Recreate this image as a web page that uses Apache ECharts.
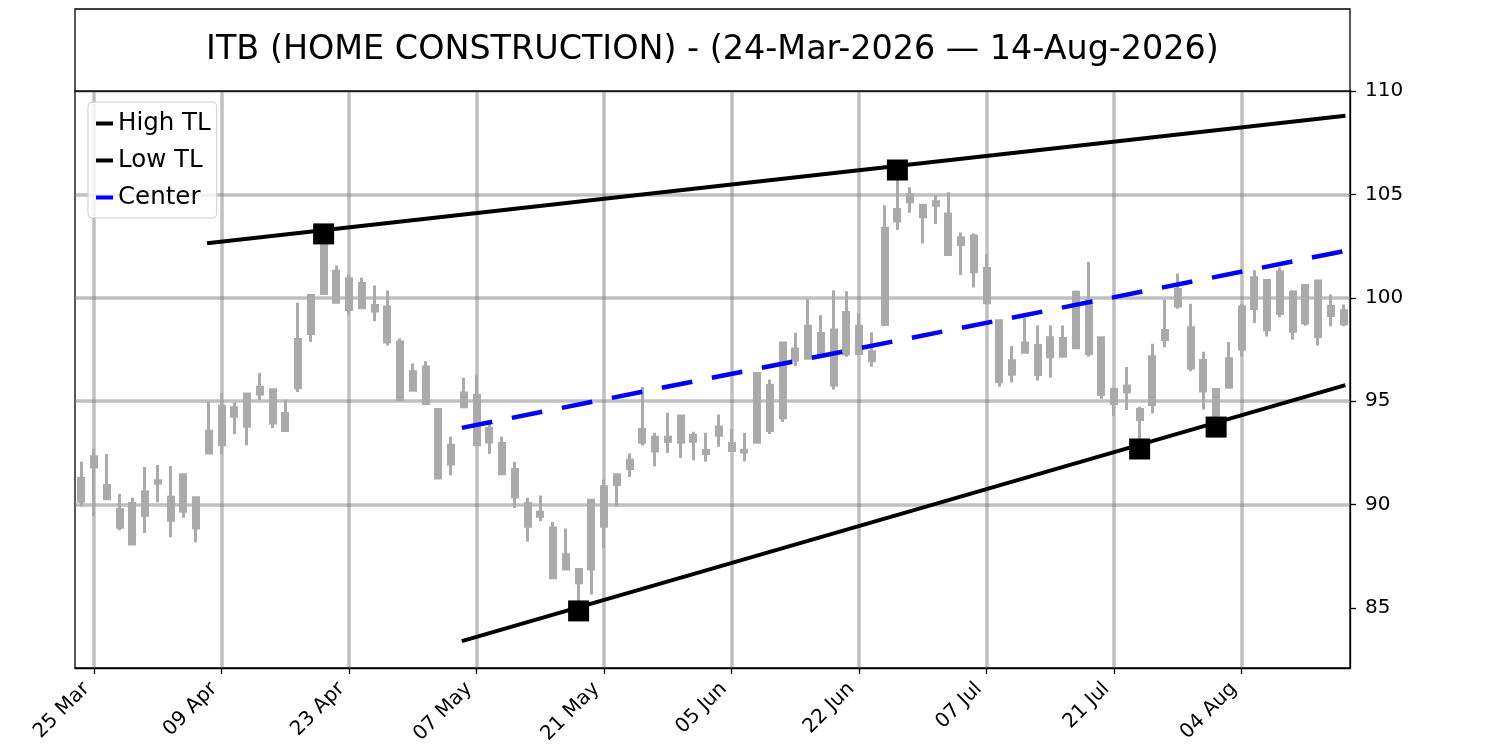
<!DOCTYPE html>
<html>
<head>
<meta charset="utf-8">
<script src="https://cdn.jsdelivr.net/npm/echarts@6/dist/echarts.min.js"></script>
<style>
html, body { margin: 0; padding: 0; background: #fff; }
#main { width: 1500px; height: 750px; }
</style>
</head>
<body>
<div id="main"></div>
<script>
// trading days, 24-Mar-2026 .. 14-Aug-2026
var dates = [
  '24 Mar','25 Mar','26 Mar','27 Mar','30 Mar','31 Mar','01 Apr','02 Apr','06 Apr','07 Apr',
  '08 Apr','09 Apr','10 Apr','13 Apr','14 Apr','15 Apr','16 Apr','17 Apr','20 Apr','21 Apr',
  '22 Apr','23 Apr','24 Apr','27 Apr','28 Apr','29 Apr','30 Apr','01 May','04 May','05 May',
  '06 May','07 May','08 May','11 May','12 May','13 May','14 May','15 May','18 May','19 May',
  '20 May','21 May','22 May','26 May','27 May','28 May','29 May','01 Jun','02 Jun','03 Jun',
  '04 Jun','05 Jun','08 Jun','09 Jun','10 Jun','11 Jun','12 Jun','15 Jun','16 Jun','17 Jun',
  '18 Jun','22 Jun','23 Jun','24 Jun','25 Jun','26 Jun','29 Jun','30 Jun','01 Jul','02 Jul',
  '06 Jul','07 Jul','08 Jul','09 Jul','10 Jul','13 Jul','14 Jul','15 Jul','16 Jul','17 Jul',
  '20 Jul','21 Jul','22 Jul','23 Jul','24 Jul','27 Jul','28 Jul','29 Jul','30 Jul','31 Jul',
  '03 Aug','04 Aug','05 Aug','06 Aug','07 Aug','10 Aug','11 Aug','12 Aug','13 Aug','14 Aug'
];
var tickDates = ['25 Mar','09 Apr','23 Apr','07 May','21 May','05 Jun','22 Jun','07 Jul','21 Jul','04 Aug'];

var opens = [
  90.16, 92.31, 90.92, 89.76, 88.10, 89.49, 91.16, 89.25, 91.45, 88.87,
  92.50, 92.90, 94.27, 93.79, 95.68, 95.56, 93.58, 95.65, 98.28, 100.21,
  101.29, 100.92, 99.52, 99.63, 99.56, 97.86, 95.53, 96.66, 94.60, 91.97,
  95.40, 95.29, 93.03, 92.95, 91.70, 90.05, 89.44, 88.87, 86.89, 86.86,
  86.89, 88.96, 90.97, 91.75, 93.02, 93.26, 93.07, 94.28, 93.07, 92.62,
  93.36, 92.95, 92.54, 93.02, 95.76, 94.20, 96.99, 97.08, 98.28, 95.78,
  97.28, 98.63, 97.39, 98.71, 103.71, 104.65, 104.48, 104.48, 104.05, 102.58,
  102.99, 101.42, 98.89, 96.30, 97.37, 97.69, 97.15, 97.18, 97.58, 99.87,
  98.07, 95.57, 95.44, 94.60, 94.84, 97.99, 99.60, 98.55, 96.97, 95.57,
  95.67, 97.53, 99.48, 100.84, 99.24, 100.28, 98.78, 100.81, 99.14, 99.38
];
var closes = [
  91.26, 91.82, 90.28, 88.91, 90.05, 90.62, 91.03, 90.36, 89.68, 90.33,
  93.55, 94.76, 94.68, 95.35, 95.35, 93.95, 94.40, 97.98, 100.11, 102.58,
  99.79, 99.44, 100.69, 99.36, 97.86, 95.08, 96.42, 94.89, 91.29, 92.87,
  94.73, 92.90, 93.68, 91.49, 90.37, 88.96, 89.63, 86.46, 87.58, 86.22,
  90.21, 90.86, 91.45, 92.15, 93.63, 92.59, 93.26, 93.02, 93.36, 92.47,
  93.75, 92.62, 92.63, 96.34, 93.58, 97.82, 97.53, 98.63, 97.31, 98.44,
  99.29, 97.31, 96.96, 103.36, 104.27, 104.97, 103.92, 104.65, 102.10, 102.90,
  101.26, 99.76, 95.94, 96.96, 97.82, 96.29, 98.07, 98.03, 100.27, 97.31,
  95.33, 94.89, 95.73, 94.12, 97.15, 98.42, 100.40, 96.61, 95.49, 94.32,
  97.05, 99.56, 100.97, 98.46, 101.25, 98.38, 100.60, 98.13, 99.59, 98.75
];
var lows = [
  89.92, 89.44, 90.25, 88.76, 88.02, 88.63, 90.12, 88.42, 89.36, 88.18,
  92.50, 92.42, 93.40, 92.87, 95.05, 93.71, 93.55, 95.44, 97.86, 100.21,
  99.71, 99.19, 99.47, 98.87, 97.69, 95.08, 95.53, 94.89, 91.29, 91.42,
  94.73, 92.90, 92.45, 91.49, 89.84, 88.20, 89.20, 86.46, 86.89, 84.86,
  85.65, 87.91, 89.90, 91.34, 92.86, 91.86, 92.50, 92.26, 92.15, 92.07,
  92.80, 92.54, 92.10, 93.02, 93.42, 93.99, 96.69, 97.06, 97.31, 95.57,
  97.15, 97.31, 96.67, 98.71, 103.28, 104.11, 102.63, 103.57, 102.10, 101.10,
  100.50, 99.76, 95.70, 95.90, 97.37, 96.00, 96.13, 97.18, 97.58, 97.15,
  95.12, 94.28, 94.57, 92.69, 94.41, 97.61, 99.47, 96.45, 94.60, 93.75,
  95.67, 97.16, 98.78, 98.13, 99.06, 97.97, 98.65, 97.69, 98.62, 98.62
];
var highs = [
  92.07, 92.70, 92.45, 90.53, 90.33, 91.82, 91.92, 91.87, 91.45, 90.33,
  94.97, 95.40, 94.95, 95.35, 96.37, 95.56, 95.08, 99.76, 100.11, 103.09,
  101.56, 101.13, 100.97, 100.60, 100.35, 98.03, 96.82, 96.93, 94.60, 93.28,
  96.13, 96.29, 93.95, 93.28, 92.07, 90.33, 90.44, 89.16, 88.84, 86.86,
  90.21, 91.21, 91.45, 92.47, 95.70, 93.47, 94.44, 94.28, 93.52, 93.47,
  94.36, 93.66, 93.47, 96.34, 96.05, 97.82, 98.31, 99.93, 99.16, 100.37,
  100.32, 99.25, 98.33, 104.48, 106.18, 105.34, 104.48, 104.97, 105.10, 103.16,
  103.11, 102.11, 98.89, 97.67, 99.03, 98.66, 98.66, 98.66, 100.35, 101.74,
  98.07, 95.57, 96.66, 94.73, 97.78, 99.92, 101.18, 99.71, 97.39, 95.57,
  97.86, 99.71, 101.33, 100.84, 101.46, 100.36, 100.65, 100.84, 100.16, 99.68
];

var yTicks = [85, 90, 95, 100, 105, 110];

// trend lines: [bar position, price] at both ends
var highTL = [[9.86, 102.64], [99.14, 108.80]];
var lowTL = [[29.84, 83.40], [99.14, 95.78]];
var centerTL = [[29.84, 93.71], [99.14, 102.27]];

// pivots marked with squares
var pivotIdx = [19, 64, 39, 83, 89];
var pivotVal = [103.09, 106.18, 84.86, 92.69, 93.75];

var candles = dates.map(function (d, i) {
  return [opens[i], closes[i], lows[i], highs[i]];
});
var pivots = pivotIdx.map(function (x, i) { return [x, pivotVal[i]]; });

function onTick(idx) {
  return tickDates.indexOf(dates[idx]) >= 0;
}

var gray = '#aaaaaa';
var gridGray = 'rgba(128,128,128,0.5)';

var myChart = echarts.init(document.getElementById('main'));

var option = {
  animation: false,
  textStyle: { fontFamily: 'DejaVu Sans' },
  graphic: [
    {
      type: 'rect',
      shape: { x: 75, y: 9, width: 1275, height: 82 },
      style: { fill: '#fff', stroke: '#000', lineWidth: 1.3 },
      z: 100
    },
    {
      type: 'text',
      x: 712.5, y: 50,
      style: {
        text: 'ITB (HOME CONSTRUCTION) - (24-Mar-2026 \u2014 14-Aug-2026)',
        fontSize: 33.4, fontFamily: 'DejaVu Sans', fill: '#000',
        align: 'center', verticalAlign: 'middle'
      },
      z: 101
    }
  ],
  legend: {
    data: [
      { name: 'High TL', icon: 'rect' },
      { name: 'Low TL', icon: 'rect' },
      { name: 'Center', icon: 'rect' }
    ],
    orient: 'vertical',
    left: 88, top: 102,
    itemWidth: 17, itemHeight: 4, itemGap: 12,
    padding: [9, 6, 8, 8],
    backgroundColor: 'rgba(255,255,255,0.8)',
    borderColor: '#cccccc', borderWidth: 1, borderRadius: 4,
    textStyle: { fontSize: 24.5, color: '#000', fontFamily: 'DejaVu Sans', lineHeight: 24.5 },
    selectedMode: false
  },
  grid: {
    left: 75, right: 150, top: 91, bottom: 82,
    show: true, borderColor: '#000', borderWidth: 1.3,
    containLabel: false
  },
  xAxis: [
    {
      type: 'category',
      data: dates,
      boundaryGap: true,
      axisLine: { show: true, lineStyle: { color: '#000', width: 1.3 } },
      axisTick: { show: true, alignWithLabel: true, interval: onTick, length: 6,
        lineStyle: { color: '#000', width: 1.3 } },
      axisLabel: { interval: onTick, rotate: 45, margin: 10, padding: [0, 11, 0, 0],
        fontSize: 20, color: '#000', fontFamily: 'DejaVu Sans' },
      splitLine: { show: true, alignWithLabel: true, interval: onTick,
        lineStyle: { color: gridGray, width: 3.5 } }
    },
    {
      type: 'value', min: -0.5, max: 99.5, show: false
    }
  ],
  yAxis: {
    type: 'value',
    position: 'right',
    min: 82.1, max: 110,
    axisLine: { show: true, onZero: false, lineStyle: { color: '#000', width: 1.3 } },
    axisTick: { show: true, length: 6, customValues: yTicks,
      lineStyle: { color: '#000', width: 1.3 } },
    axisLabel: { customValues: yTicks, margin: 15, fontSize: 20, color: '#000',
      fontFamily: 'DejaVu Sans' },
    splitLine: { show: true, showMinLine: false, lineStyle: { color: gridGray, width: 3.5 } }
  },
  series: [
    {
      name: 'ITB',
      type: 'candlestick',
      data: candles,
      barWidth: 5.5,
      itemStyle: { color: gray, color0: gray, borderColor: gray, borderColor0: gray, borderWidth: 3 },
      emphasis: { disabled: true },
      z: 2
    },
    {
      name: 'High TL',
      type: 'line',
      xAxisIndex: 1,
      data: highTL,
      symbol: 'none',
      lineStyle: { color: '#000', width: 4 },
      itemStyle: { color: '#000' },
      z: 3
    },
    {
      name: 'Low TL',
      type: 'line',
      xAxisIndex: 1,
      data: lowTL,
      symbol: 'none',
      lineStyle: { color: '#000', width: 4 },
      itemStyle: { color: '#000' },
      z: 3
    },
    {
      name: 'Center',
      type: 'line',
      xAxisIndex: 1,
      data: centerTL,
      symbol: 'none',
      lineStyle: { color: '#0000ff', width: 4.5, type: [31, 20] },
      itemStyle: { color: '#0000ff' },
      z: 3
    },
    {
      name: 'Pivots',
      type: 'scatter',
      xAxisIndex: 0,
      data: pivots,
      symbol: 'rect',
      symbolSize: 21,
      itemStyle: { color: '#000', opacity: 1 },
      z: 4
    }
  ]
};

myChart.setOption(option);
</script>
</body>
</html>
